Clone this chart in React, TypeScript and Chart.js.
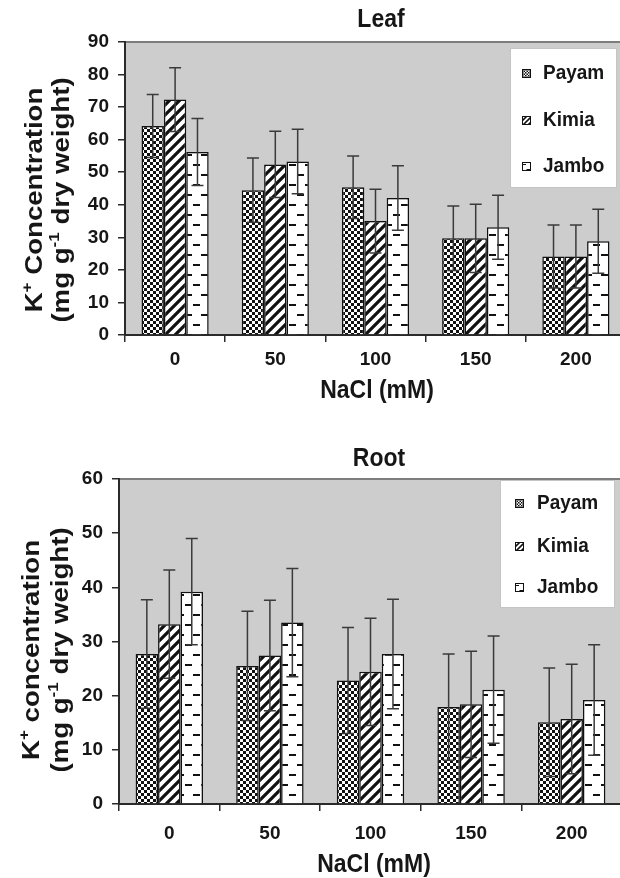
import React, { useEffect, useRef } from "react";
import { Chart, registerables } from "chart.js";
Chart.register(...registerables);

// ---------- data ----------
const categories = ["0", "50", "100", "150", "200"];
const seriesNames = ["Payam", "Kimia", "Jambo"];

const leafPayam = [64.2, 44.5, 45.4, 29.7, 24.1];
const leafKimia = [72.3, 52.4, 35.0, 29.7, 24.1];
const leafJambo = [56.2, 53.3, 42.1, 33.1, 28.8];
const leafPayamErr = [9.7, 9.9, 9.6, 9.9, 9.7];
const leafKimiaErr = [9.8, 10.2, 9.8, 10.5, 9.7];
const leafJamboErr = [10.3, 9.9, 9.9, 9.8, 9.8];

const rootPayam = [27.7, 25.5, 22.8, 17.9, 15.1];
const rootKimia = [33.2, 27.4, 24.4, 18.4, 15.7];
const rootJambo = [39.2, 33.5, 27.7, 21.1, 19.2];
const rootPayamErr = [10.0, 10.1, 9.8, 9.8, 10.0];
const rootKimiaErr = [10.0, 10.2, 9.9, 9.8, 10.1];
const rootJamboErr = [9.8, 10.0, 10.1, 9.9, 10.2];

const leafYMax = 90;
const rootYMax = 60;
const yStep = 10;

// ---------- styles ----------
const FONT = '"Liberation Sans", Arial, Helvetica, sans-serif';
const INK = "#161616";
const PLOT_BG = "#cdcdcd";
const AXIS = "#2a2a2a";
const SY = 1.1;

type Seg = { t: string; sup?: boolean };

function makePatterns(): CanvasPattern[] {
  const mk = (w: number, h: number, draw: (c: CanvasRenderingContext2D) => void) => {
    const cv = document.createElement("canvas");
    cv.width = w;
    cv.height = h;
    const c = cv.getContext("2d")!;
    c.fillStyle = "#ffffff";
    c.fillRect(0, 0, w, h);
    draw(c);
    return c.createPattern(cv, "repeat")!;
  };
  const checker = mk(6, 6, (c) => {
    c.fillStyle = "#111";
    c.fillRect(0, 0, 3, 3);
    c.fillRect(3, 3, 3, 3);
  });
  const diag = mk(10, 10, (c) => {
    c.strokeStyle = "#111";
    c.lineWidth = 3.2;
    c.beginPath();
    for (const k of [0, 10, 20]) {
      c.moveTo(-5, k + 5);
      c.lineTo(k + 5, -5);
    }
    c.stroke();
  });
  const dash = mk(16, 20, (c) => {
    c.fillStyle = "#111";
    c.fillRect(1, 4, 7, 2);
    c.fillRect(9, 14, 7, 2);
  });
  return [checker, diag, dash];
}

function drawText(
  ctx: CanvasRenderingContext2D,
  text: string,
  x: number,
  y: number,
  size: number,
  align: CanvasTextAlign
) {
  ctx.save();
  ctx.translate(x, y);
  ctx.scale(1, SY);
  ctx.font = `bold ${size}px ${FONT}`;
  ctx.textAlign = align;
  ctx.textBaseline = "middle";
  ctx.fillStyle = INK;
  ctx.fillText(text, 0, 0);
  ctx.restore();
}

function drawRotLine(
  ctx: CanvasRenderingContext2D,
  segs: Seg[],
  cx: number,
  cy: number,
  size: number,
  stretch: number
) {
  ctx.save();
  ctx.translate(cx, cy);
  ctx.rotate(-Math.PI / 2);
  ctx.scale(stretch, 1);
  const supSize = size * 0.62;
  let w = 0;
  const widths = segs.map((s) => {
    ctx.font = `bold ${s.sup ? supSize : size}px ${FONT}`;
    const m = ctx.measureText(s.t).width;
    w += m;
    return m;
  });
  let x = -w / 2;
  const base = size * 0.36;
  ctx.textBaseline = "alphabetic";
  ctx.textAlign = "left";
  ctx.fillStyle = INK;
  segs.forEach((s, i) => {
    ctx.font = `bold ${s.sup ? supSize : size}px ${FONT}`;
    ctx.fillText(s.t, x, s.sup ? base - size * 0.42 : base);
    x += widths[i];
  });
  ctx.restore();
}

interface PanelCfg {
  title: string;
  values: number[][];
  errors: number[][];
  yMax: number;
  yLines: Seg[][];
  canvasW: number;
  canvasH: number;
  plotTop: number;
  plotBottom: number;
  plotLeft: number;
  plotRight: number;
  titleX: number;
  titleY: number;
  xTitleX: number;
  xTitleY: number;
  yLineX: number[];
  yTitleCY: number;
  xTickPad: number;
  legend: { x: number; y: number; w: number; h: number; itemY: number[]; iconX: number; textX: number };
}

function Panel({ cfg }: { cfg: PanelCfg }) {
  const ref = useRef<HTMLCanvasElement | null>(null);
  useEffect(() => {
    const canvas = ref.current!;
    const patterns = makePatterns();

    const bgPlugin = {
      id: "bg",
      beforeDraw(chart: any) {
        const { ctx, chartArea: a } = chart;
        ctx.save();
        ctx.fillStyle = "#ffffff";
        ctx.fillRect(0, 0, chart.width, chart.height);
        ctx.fillStyle = PLOT_BG;
        ctx.fillRect(a.left, a.top, a.right - a.left, a.bottom - a.top);
        ctx.strokeStyle = "#7d7d7d";
        ctx.lineWidth = 2;
        ctx.beginPath();
        ctx.moveTo(a.left, a.top);
        ctx.lineTo(a.right + 20, a.top);
        ctx.stroke();
        ctx.restore();
      },
    };

    const errPlugin = {
      id: "err",
      afterDatasetsDraw(chart: any) {
        const { ctx } = chart;
        const ys = chart.scales.y;
        ctx.save();
        ctx.strokeStyle = "#3a3a3a";
        ctx.lineWidth = 1.5;
        chart.data.datasets.forEach((ds: any, i: number) => {
          const meta = chart.getDatasetMeta(i);
          meta.data.forEach((bar: any, j: number) => {
            const v = ds.data[j];
            const e = ds.errors[j];
            const x = bar.x;
            const yT = ys.getPixelForValue(v + e);
            const yB = ys.getPixelForValue(v - e);
            ctx.beginPath();
            ctx.moveTo(x, yT);
            ctx.lineTo(x, yB);
            ctx.moveTo(x - 6, yT);
            ctx.lineTo(x + 6, yT);
            ctx.moveTo(x - 6, yB);
            ctx.lineTo(x + 6, yB);
            ctx.stroke();
          });
        });
        ctx.restore();
      },
    };

    const decorPlugin = {
      id: "decor",
      afterDraw(chart: any) {
        const { ctx } = chart;
        ctx.save();
        drawText(ctx, cfg.title, cfg.titleX, cfg.titleY, 23, "center");
        drawText(ctx, "NaCl (mM)", cfg.xTitleX, cfg.xTitleY, 23, "center");
        cfg.yLines.forEach((segs, i) => drawRotLine(ctx, segs, cfg.yLineX[i], cfg.yTitleCY, 24, 1.15));
        // legend
        const L = cfg.legend;
        ctx.fillStyle = "#ffffff";
        ctx.fillRect(L.x, L.y, L.w, L.h);
        ctx.strokeStyle = "#c4c4c4";
        ctx.lineWidth = 1;
        ctx.strokeRect(L.x + 0.5, L.y + 0.5, L.w - 1, L.h - 1);
        seriesNames.forEach((name, i) => {
          const iy = L.itemY[i];
          ctx.save();
          ctx.translate(L.iconX, iy - 4);
          ctx.scale(0.5, 0.5);
          ctx.fillStyle = patterns[i];
          ctx.fillRect(0, 0, 16, 16);
          ctx.restore();
          ctx.strokeStyle = "#111";
          ctx.lineWidth = 1;
          ctx.strokeRect(L.iconX + 0.5, iy - 4 + 0.5, 8, 8);
          drawText(ctx, name, L.textX, iy, 19, "left");
        });
        ctx.restore();
      },
    };

    const tickFont = { family: FONT, size: 19, weight: "bold" as const };
    const chart = new Chart(canvas, {
      type: "bar",
      data: {
        labels: categories,
        datasets: seriesNames.map((name, i) => ({
          label: name,
          data: cfg.values[i],
          errors: cfg.errors[i],
          backgroundColor: patterns[i],
          borderColor: "#111",
          borderWidth: 1.5,
          barPercentage: 1,
          categoryPercentage: 0.67,
        })) as any,
      },
      options: {
        responsive: false,
        animation: false,
        devicePixelRatio: 1,
        layout: {
          padding: { top: cfg.plotTop, right: cfg.canvasW - cfg.plotRight, left: 0, bottom: 0 },
        },
        plugins: {
          legend: { display: false },
          title: { display: false },
          tooltip: { enabled: false },
        },
        scales: {
          x: {
            grid: {
              display: true,
              drawOnChartArea: false,
              drawTicks: true,
              tickLength: 7,
              color: AXIS,
              lineWidth: 1.5,
              offset: true,
            },
            border: { display: true, color: AXIS, width: 2 },
            ticks: { font: tickFont, color: INK, padding: cfg.xTickPad, maxRotation: 0 },
            afterFit: (s: any) => {
              s.height = cfg.canvasH - cfg.plotBottom;
            },
          },
          y: {
            min: 0,
            max: cfg.yMax,
            ticks: { stepSize: yStep, font: tickFont, color: INK, padding: 9 },
            grid: {
              display: true,
              drawOnChartArea: false,
              drawTicks: true,
              tickLength: 7,
              color: AXIS,
              lineWidth: 1.5,
            },
            border: { display: true, color: AXIS, width: 2 },
            afterFit: (s: any) => {
              s.width = cfg.plotLeft;
            },
          },
        },
      },
      plugins: [bgPlugin, errPlugin, decorPlugin],
    });
    return () => chart.destroy();
  }, [cfg]);
  return <canvas ref={ref} width={cfg.canvasW} height={cfg.canvasH} style={{ display: "block" }} />;
}

const leafCfg: PanelCfg = {
  title: "Leaf",
  values: [leafPayam, leafKimia, leafJambo],
  errors: [leafPayamErr, leafKimiaErr, leafJamboErr],
  yMax: leafYMax,
  yLines: [
    [{ t: "K" }, { t: "+", sup: true }, { t: " Concentration" }],
    [{ t: "(mg g" }, { t: "-1", sup: true }, { t: " dry weight)" }],
  ],
  canvasW: 640,
  canvasH: 430,
  plotTop: 42,
  plotBottom: 335,
  plotLeft: 125,
  plotRight: 626,
  titleX: 381,
  titleY: 20,
  xTitleX: 377,
  xTitleY: 391,
  yLineX: [33, 60],
  yTitleCY: 200,
  xTickPad: 6,
  legend: { x: 510, y: 48, w: 107, h: 140, itemY: [73, 120, 166], iconX: 522, textX: 543 },
};

const rootCfg: PanelCfg = {
  title: "Root",
  values: [rootPayam, rootKimia, rootJambo],
  errors: [rootPayamErr, rootKimiaErr, rootJamboErr],
  yMax: rootYMax,
  yLines: [
    [{ t: "K" }, { t: "+", sup: true }, { t: " concentration" }],
    [{ t: "(mg g" }, { t: "-1", sup: true }, { t: " dry weight)" }],
  ],
  canvasW: 640,
  canvasH: 448,
  plotTop: 49,
  plotBottom: 374,
  plotLeft: 119,
  plotRight: 622,
  titleX: 379,
  titleY: 29,
  xTitleX: 374,
  xTitleY: 435,
  yLineX: [30, 59],
  yTitleCY: 220,
  xTickPad: 11,
  legend: { x: 500, y: 50, w: 115, h: 128, itemY: [73, 116, 157], iconX: 515, textX: 537 },
};

export default function App() {
  return (
    <div
      style={{
        position: "absolute",
        left: 0,
        top: 0,
        width: 620,
        height: 878,
        overflow: "hidden",
        background: "#fff",
      }}
    >
      <Panel cfg={leafCfg} />
      <Panel cfg={rootCfg} />
    </div>
  );
}
